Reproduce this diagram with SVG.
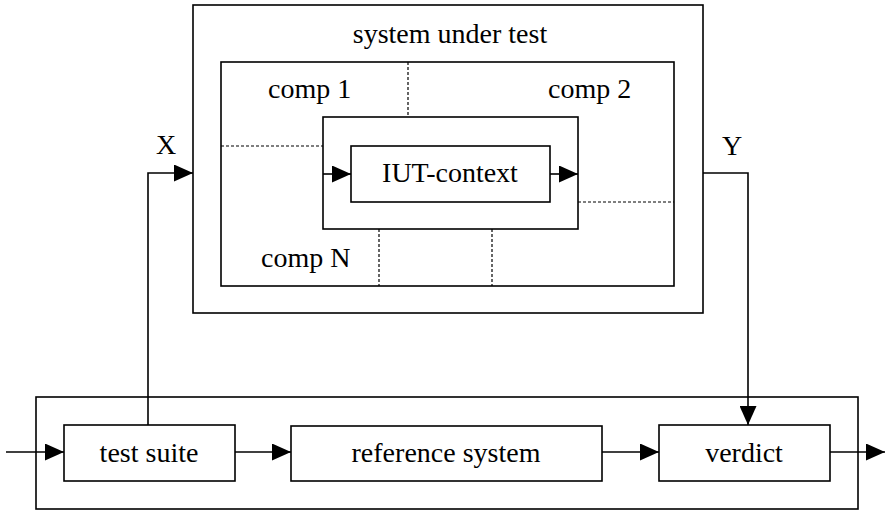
<svg xmlns="http://www.w3.org/2000/svg" width="886" height="512" viewBox="0 0 886 512">
  <style>
    .box { fill: none; stroke: #000; stroke-width: 1.6; }
    .dash { fill: none; stroke: #000; stroke-width: 1.2; stroke-dasharray: 3 2; }
    .wire { fill: none; stroke: #000; stroke-width: 1.6; }
    text { font-family: "Liberation Serif", "Times New Roman", serif; font-size: 28px; fill: #000; }
    .c { text-anchor: middle; }
  </style>
  <defs>
    <marker id="ah" viewBox="0 0 19 17" markerWidth="19" markerHeight="17" refX="19" refY="8.5" orient="auto" markerUnits="userSpaceOnUse">
      <path d="M0,0 L19,8.5 L0,17 z" fill="#000"/>
    </marker>
  </defs>
  <rect width="886" height="512" fill="#fff"/>

  <g id="system-under-test">
    <rect class="box" x="193" y="5" width="510" height="308"/>
    <text class="c" x="450" y="43">system under test</text>
  </g>
  <g id="components">
    <rect class="box" x="221" y="62" width="453" height="224"/>
    <line class="dash" x1="408" y1="62" x2="408" y2="117"/>
    <line class="dash" x1="221" y1="146" x2="323" y2="146"/>
    <line class="dash" x1="578" y1="202" x2="674" y2="202"/>
    <line class="dash" x1="379" y1="229" x2="379" y2="286"/>
    <line class="dash" x1="492" y1="229" x2="492" y2="286"/>
    <text x="268" y="98">comp 1</text>
    <text x="548" y="98">comp 2</text>
    <text x="261" y="267">comp N</text>
  </g>
  <g id="iut-wrapper">
    <rect class="box" x="323" y="117" width="255" height="112"/>
  </g>
  <g id="iut-context">
    <rect class="box" x="351" y="146" width="199" height="56"/>
    <text class="c" x="450" y="182">IUT-context</text>
  </g>

  <g id="test-environment">
    <rect class="box" x="36" y="397" width="822" height="112"/>
  </g>
  <g id="test-suite">
    <rect class="box" x="64" y="425" width="171" height="56"/>
    <text class="c" x="149" y="462">test suite</text>
  </g>
  <g id="reference-system">
    <rect class="box" x="291" y="426" width="311" height="55"/>
    <text class="c" x="446" y="462">reference system</text>
  </g>
  <g id="verdict">
    <rect class="box" x="659" y="425" width="171" height="56"/>
    <text class="c" x="744" y="462">verdict</text>
  </g>

  <g id="connectors">
    <polyline class="wire" points="148,425 148,173 193,173" marker-end="url(#ah)"/>
    <polyline class="wire" points="703,173 748,173 748,425" marker-end="url(#ah)"/>
    <line class="wire" x1="323" y1="174" x2="351" y2="174" marker-end="url(#ah)"/>
    <line class="wire" x1="550" y1="174" x2="578" y2="174" marker-end="url(#ah)"/>
    <line class="wire" x1="6" y1="452" x2="64" y2="452" marker-end="url(#ah)"/>
    <line class="wire" x1="235" y1="452" x2="291" y2="452" marker-end="url(#ah)"/>
    <line class="wire" x1="602" y1="452" x2="659" y2="452" marker-end="url(#ah)"/>
    <line class="wire" x1="830" y1="452" x2="885" y2="452" marker-end="url(#ah)"/>
    <text x="156" y="154">X</text>
    <text x="722" y="155">Y</text>
  </g>
</svg>
